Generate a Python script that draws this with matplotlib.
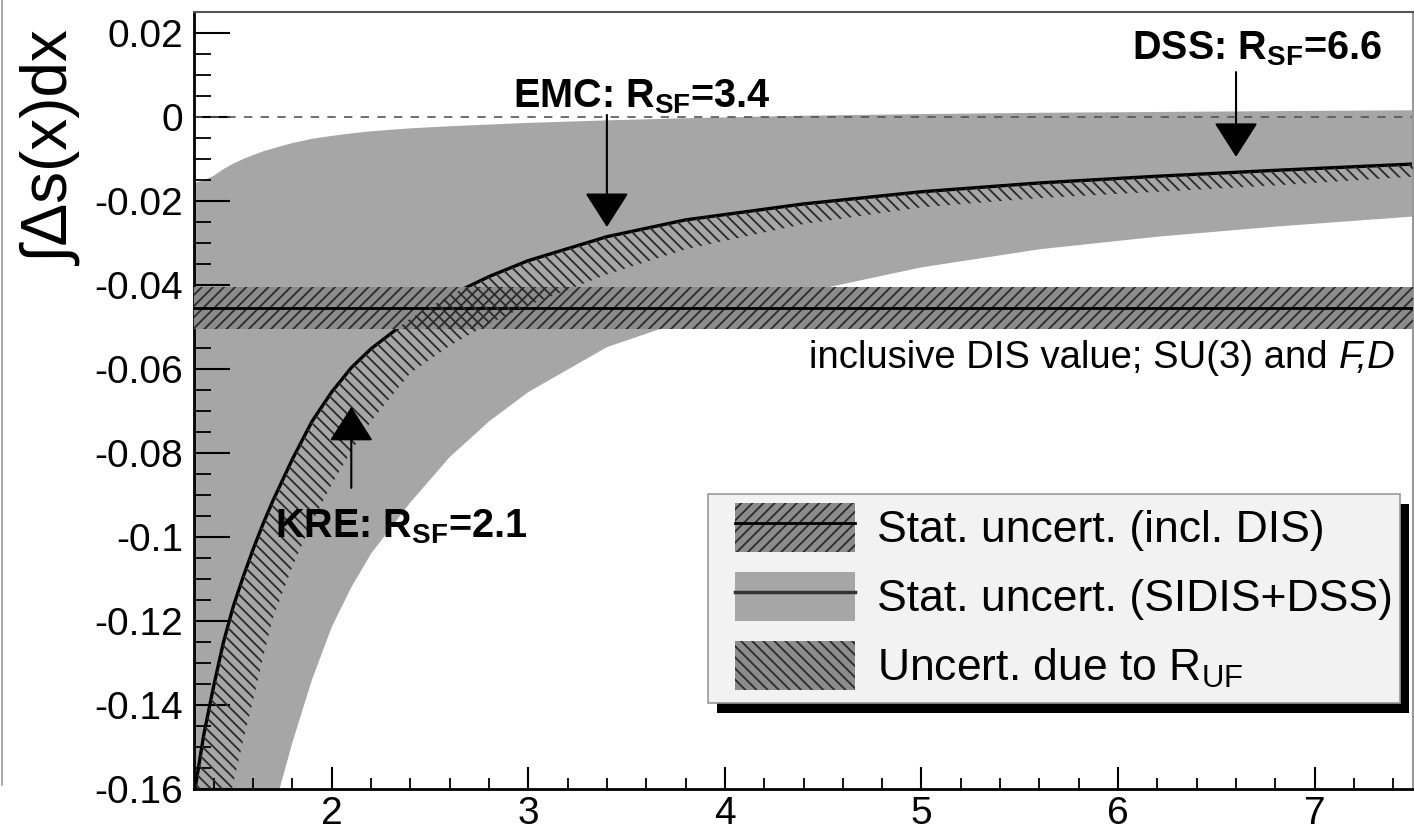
import matplotlib
matplotlib.use("Agg")
import matplotlib.pyplot as plt
from matplotlib.patches import Patch, Rectangle
from matplotlib.lines import Line2D
from matplotlib.ticker import MultipleLocator

plt.rcParams['font.family'] = ['Liberation Sans', 'DejaVu Sans']
plt.rcParams['mathtext.fontset'] = 'custom'
plt.rcParams['mathtext.rm'] = 'Liberation Sans'
plt.rcParams['mathtext.it'] = 'Liberation Sans:italic'
plt.rcParams['mathtext.bf'] = 'Liberation Sans:bold'
plt.rcParams['hatch.linewidth'] = 1.3

# --- R_SF scan ---
r_sf = [1.3, 1.35, 1.4, 1.45, 1.5, 1.55, 1.6, 1.65, 1.7, 1.8, 1.9, 2.0, 2.1,
        2.2, 2.4, 2.6, 2.8, 3.0, 3.4, 3.8, 4.4, 5.0, 5.6, 6.2, 6.8, 7.5]
ds_central = [-0.1615, -0.147, -0.1355, -0.125, -0.1165, -0.1095, -0.103,
              -0.097, -0.0915, -0.0815, -0.0725, -0.0655, -0.0597, -0.0552,
              -0.048, -0.0425, -0.038, -0.0342, -0.0285, -0.0245, -0.0207,
              -0.0178, -0.0157, -0.0141, -0.0127, -0.0112]
ds_ruf_low = [-0.205, -0.192, -0.180, -0.169, -0.1586, -0.1485, -0.139, -0.129,
              -0.1195, -0.1071, -0.0965, -0.0875, -0.0795, -0.0725, -0.061,
              -0.0545, -0.0492, -0.0448, -0.0375, -0.0315, -0.0255, -0.0215,
              -0.0193, -0.0178, -0.0163, -0.0142]
ds_stat_low = [-0.27, -0.25, -0.235, -0.222, -0.21, -0.197, -0.185, -0.175,
               -0.166, -0.149, -0.134, -0.1215, -0.112, -0.104, -0.0918,
               -0.081, -0.0725, -0.0655, -0.0548, -0.0484, -0.0418, -0.0358,
               -0.0315, -0.0285, -0.0261, -0.0237]
ds_stat_up = [-0.0157, -0.0151, -0.0140, -0.0124, -0.0111, -0.0100, -0.0091,
              -0.0082, -0.0075, -0.0062, -0.0052, -0.0045, -0.0039, -0.0034,
              -0.0027, -0.0022, -0.0018, -0.0014, -0.0008, -0.0003, 0.0003,
              0.0007, 0.0010, 0.0012, 0.0014, 0.0016]

# inclusive DIS value with its band
dis_value = -0.0455
dis_err = 0.005

# fragmentation function sets: name, R_SF, arrow tail y, arrow tip y
ff_names = ['KRE', 'EMC', 'DSS']
ff_rsf = [2.1, 3.4, 6.6]
ff_tail = [-0.0883, 0.0005, 0.0107]
ff_tip = [-0.069, -0.0262, -0.0095]
ff_text_xy = [(1.712, -0.100), (2.92, 0.0024), (6.07, 0.0138)]

y_ticks = [0.02, 0, -0.02, -0.04, -0.06, -0.08, -0.1, -0.12, -0.14, -0.16]
y_labels = ['0.02', '0', '-0.02', '-0.04', '-0.06', '-0.08', '-0.1', '-0.12',
            '-0.14', '-0.16']
x_ticks = [2, 3, 4, 5, 6, 7]

legend_labels = ['Stat. uncert. (incl. DIS)',
                 'Stat. uncert. (SIDIS+DSS)',
                 r'Uncert. due to R$_{\mathrm{UF}}$']

LIGHT = '#a6a6a6'
DARK = '#8c8c8c'
HATCH = '#2a2a2a'

W, H = 1414, 830
fig = plt.figure(figsize=(W / 100, H / 100), dpi=100)
ax = fig.add_axes([194 / W, 1 - 789 / H, (1413 - 194) / W, (789 - 12) / H])

# bands
ax.fill_between(r_sf, ds_stat_low, ds_stat_up, color=LIGHT, lw=0, zorder=1)
ax.plot(r_sf, ds_central, color='k', lw=2.4, zorder=2)
ax.axhline(0, color='#555555', lw=1.2, ls=(0, (5, 5)), zorder=2)
ax.axhspan(dis_value - dis_err, dis_value + dis_err, facecolor=DARK,
           edgecolor=HATCH, hatch='///', lw=0, zorder=3)
ax.axhline(dis_value, color='k', lw=2, zorder=3)
ax.fill_between(r_sf, ds_ruf_low, ds_central, facecolor='none',
                edgecolor=HATCH, hatch='\\\\\\', lw=0, zorder=4)

# arrows and labels for the FF sets
for name, r, y0, y1, (tx, ty) in zip(ff_names, ff_rsf, ff_tail, ff_tip, ff_text_xy):
    ax.annotate('', xy=(r, y1), xytext=(r, y0),
                arrowprops=dict(arrowstyle='-|>,head_length=1.1,head_width=0.7',
                                mutation_scale=20, color='k', lw=1.5,
                                shrinkA=0, shrinkB=0), zorder=6)
    ax.text(tx, ty, name + r': R$_{\mathbf{SF}}$=' + f'{r:.1f}',
            fontsize=28.5, fontweight='bold', ha='left', va='baseline', zorder=6)

dis_txt = ax.text(4.43, -0.0597, 'inclusive DIS value; SU(3) and ',
                  fontsize=27.5, ha='left', va='baseline', zorder=6)
ax.annotate('F,D', xy=(1, 0), xycoords=dis_txt, ha='left', va='bottom',
            fontsize=27.5, fontstyle='italic', zorder=6)

ax.set_xlim(1.3, 7.5)
ax.set_ylim(-0.16, 0.025)
ax.set_xticks(x_ticks, labels=[str(t) for t in x_ticks])
ax.set_yticks(y_ticks, labels=y_labels)
ax.xaxis.set_minor_locator(MultipleLocator(0.2))
ax.yaxis.set_minor_locator(MultipleLocator(0.005))
ax.tick_params(axis='both', which='both', direction='in', top=False, right=False,
               labelsize=28)
ax.tick_params(axis='y', which='major', length=26, width=1.5, pad=8)
ax.tick_params(axis='y', which='minor', length=12.5, width=1.3)
ax.tick_params(axis='x', which='major', length=16, width=1.5, pad=5)
ax.tick_params(axis='x', which='minor', length=8, width=1.3)
for s in ['left', 'bottom']:
    ax.spines[s].set_linewidth(2)
ax.spines['top'].set_color('#555555')
ax.spines['top'].set_linewidth(1.5)
ax.spines['right'].set_color('#999999')
ax.spines['right'].set_linewidth(1.5)

fig.text(70 / W, 1 - 32 / H, '∫Δs(x)dx', rotation=90, rotation_mode='anchor',
         ha='right', va='baseline', fontsize=46)

# edge of the neighbouring panel
fig.add_artist(Line2D([2 / W, 2 / W], [1, 1 - 785 / H], color='#999999', lw=1.2))

# legend box with drop shadow
fig.add_artist(Rectangle((717 / W, 1 - 713 / H), 692 / W, 209 / H,
                         transform=fig.transFigure, facecolor='k', lw=0, zorder=1))
fig.add_artist(Rectangle((708 / W, 1 - 703 / H), 692 / W, 209 / H,
                         transform=fig.transFigure, facecolor='#f2f2f2',
                         edgecolor='#999999', lw=1.2, zorder=2))
handles = [
    (Patch(facecolor=DARK, edgecolor=HATCH, hatch='///', lw=0),
     Line2D([], [], color='k', lw=2)),
    (Patch(facecolor=LIGHT, lw=0), Line2D([], [], color='#333333', lw=2.5)),
    Patch(facecolor=DARK, edgecolor=HATCH, hatch='\\\\\\', lw=0),
]
fig.legend(handles, legend_labels, loc='upper left',
           bbox_to_anchor=(735 / W, 1 - 503 / H), bbox_transform=fig.transFigure,
           frameon=False, borderpad=0, borderaxespad=0, fontsize=32,
           handlelength=2.7, handleheight=1.32, handletextpad=0.5,
           labelspacing=0.45)

fig.savefig('out.png', dpi=100)
